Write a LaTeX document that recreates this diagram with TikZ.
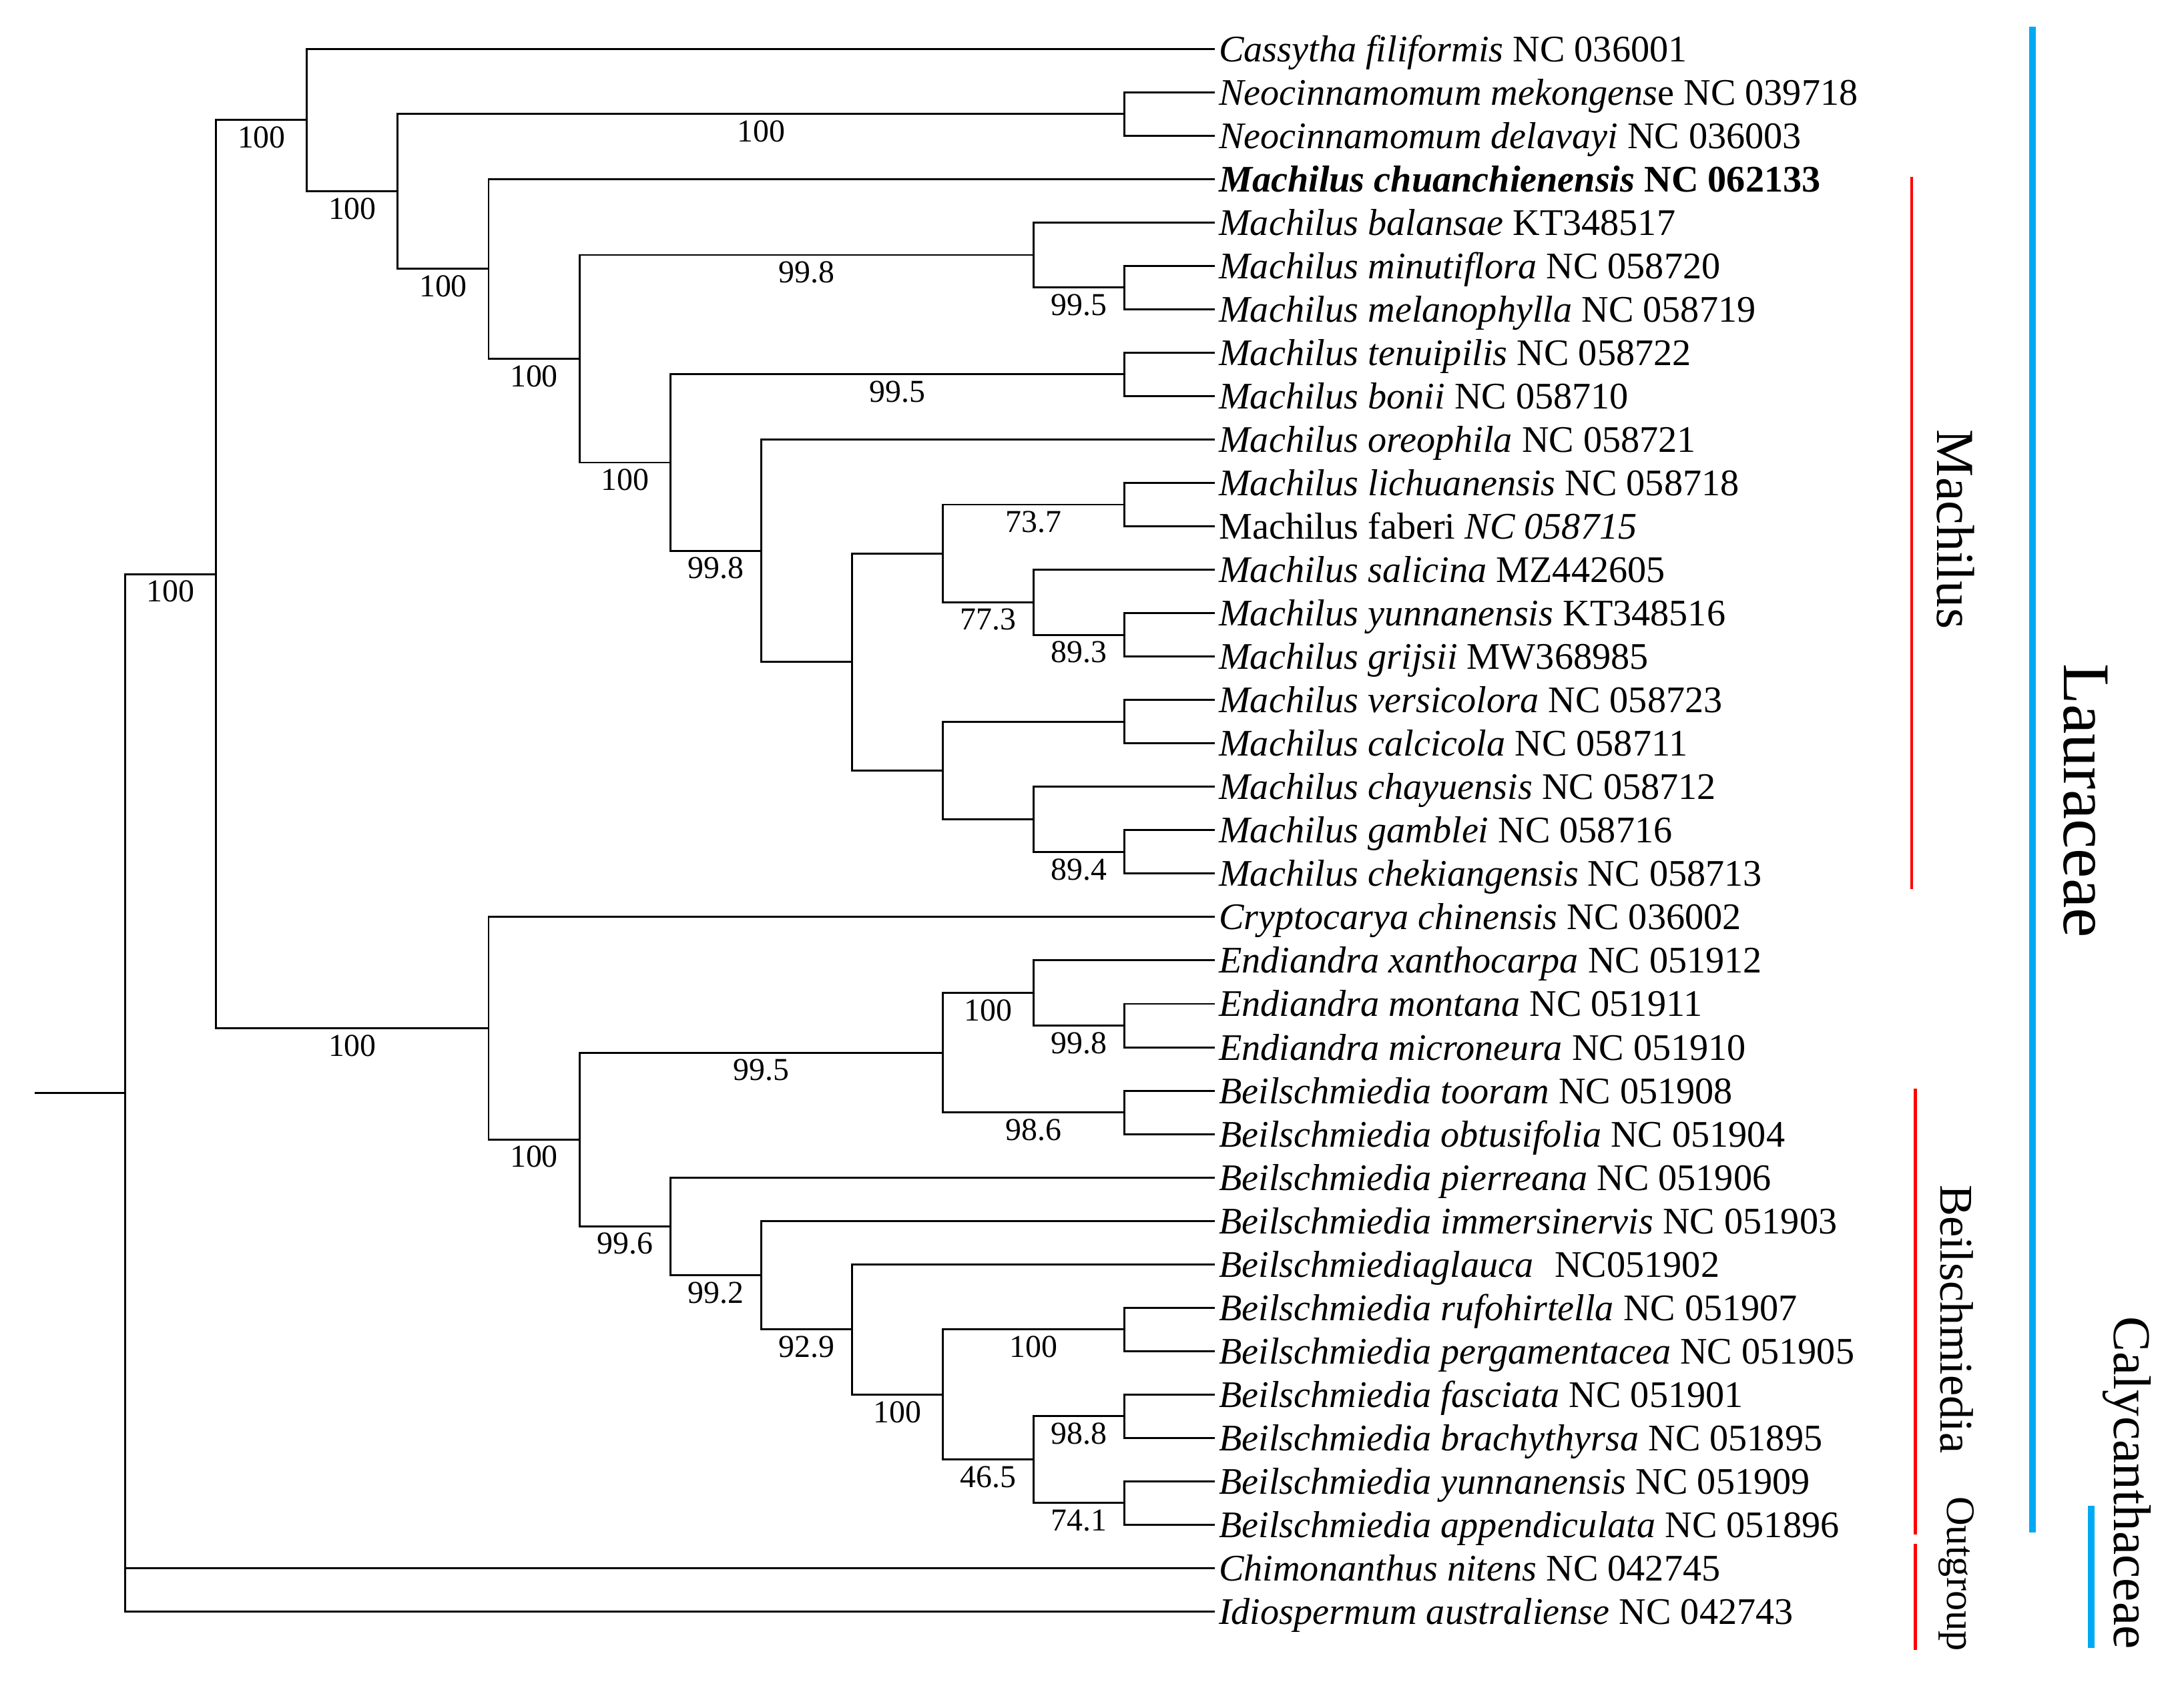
\documentclass[tikz,border=0pt]{standalone}
\usepackage{fontspec}
\setmainfont{Liberation Serif}
\usepackage{xcolor}
\definecolor{clade_red}{HTML}{FF0000}
\definecolor{clade_blue}{RGB}{0,169,244}
\newcommand{\taxsize}{\fontsize{8}{9}\selectfont}
\newcommand{\bootsize}{\fontsize{6.8}{8}\selectfont}

\begin{document}
\begin{tikzpicture}[x=0.68026cm, y=-0.32521cm]
\tikzset{
    branch/.style={line width=0.42pt},
    taxon/.style={anchor=west, inner sep=0.6pt, text height=6.6pt, text depth=1.2pt, font=\taxsize},
    boot/.style={pos=0.75, below, inner sep=1.2pt, font=\bootsize},
    genusbar/.style={draw=clade_red, line width=0.6pt},
    familybar/.style={draw=clade_blue, line width=1.3pt},
    cladename/.style={rotate=-90, anchor=base, inner sep=0pt}
}
\useasboundingbox (-1.3804,-1.1229) rectangle (22.669,37.793);
% inner nodes
\coordinate (stub) at (-1,24.0513);
\coordinate (root) at (0,24.0513);
\coordinate (Lau) at (1,12.1025);
\coordinate (A) at (2,1.6426);
\coordinate (B) at (3,3.2852);
\coordinate (Neo) at (11,1.5);
\coordinate (C) at (4,5.0703);
\coordinate (D) at (5,7.1406);
\coordinate (E) at (10,4.75);
\coordinate (E2) at (11,5.5);
\coordinate (F) at (6,9.5313);
\coordinate (G) at (11,7.5);
\coordinate (H) at (7,11.5625);
\coordinate (I) at (8,14.125);
\coordinate (J) at (9,11.625);
\coordinate (J1) at (11,10.5);
\coordinate (J2) at (10,12.75);
\coordinate (J3) at (11,13.5);
\coordinate (K) at (9,16.625);
\coordinate (K1) at (11,15.5);
\coordinate (K2) at (10,17.75);
\coordinate (K3) at (11,18.5);
\coordinate (L) at (4,22.5625);
\coordinate (M) at (5,25.125);
\coordinate (N) at (9,23.125);
\coordinate (N1) at (10,21.75);
\coordinate (N1a) at (11,22.5);
\coordinate (N2) at (11,24.5);
\coordinate (O) at (6,27.125);
\coordinate (P) at (7,28.25);
\coordinate (Q) at (8,29.5);
\coordinate (R) at (9,31);
\coordinate (R1) at (11,29.5);
\coordinate (R2) at (10,32.5);
\coordinate (R2a) at (11,31.5);
\coordinate (R2b) at (11,33.5);
% leaves
\node[taxon] (l0) at (12,0) {\textit{Cassytha filiformis} NC 036001};
\node[taxon] (l1) at (12,1) {\textit{Neocinnamomum mekongens}e NC 039718};
\node[taxon] (l2) at (12,2) {\textit{Neocinnamomum delavayi} NC 036003};
\node[taxon] (l3) at (12,3) {\bfseries\textit{Machilus chuanchienensis} NC 062133};
\node[taxon] (l4) at (12,4) {\textit{Machilus balansae} KT348517};
\node[taxon] (l5) at (12,5) {\textit{Machilus minutiflora} NC 058720};
\node[taxon] (l6) at (12,6) {\textit{Machilus melanophylla} NC 058719};
\node[taxon] (l7) at (12,7) {\textit{Machilus tenuipilis} NC 058722};
\node[taxon] (l8) at (12,8) {\textit{Machilus bonii} NC 058710};
\node[taxon] (l9) at (12,9) {\textit{Machilus oreophila} NC 058721};
\node[taxon] (l10) at (12,10) {\textit{Machilus lichuanensis} NC 058718};
\node[taxon] (l11) at (12,11) {Machilus faberi \textit{NC 058715}};
\node[taxon] (l12) at (12,12) {\textit{Machilus salicina} MZ442605};
\node[taxon] (l13) at (12,13) {\textit{Machilus yunnanensis} KT348516};
\node[taxon] (l14) at (12,14) {\textit{Machilus grijsii} MW368985};
\node[taxon] (l15) at (12,15) {\textit{Machilus versicolora} NC 058723};
\node[taxon] (l16) at (12,16) {\textit{Machilus calcicola} NC 058711};
\node[taxon] (l17) at (12,17) {\textit{Machilus chayuensis} NC 058712};
\node[taxon] (l18) at (12,18) {\textit{Machilus gamblei} NC 058716};
\node[taxon] (l19) at (12,19) {\textit{Machilus chekiangensis} NC 058713};
\node[taxon] (l20) at (12,20) {\textit{Cryptocarya chinensis} NC 036002};
\node[taxon] (l21) at (12,21) {\textit{Endiandra xanthocarpa} NC 051912};
\node[taxon] (l22) at (12,22) {\textit{Endiandra montana} NC 051911};
\node[taxon] (l23) at (12,23) {\textit{Endiandra microneura} NC 051910};
\node[taxon] (l24) at (12,24) {\textit{Beilschmiedia tooram} NC 051908};
\node[taxon] (l25) at (12,25) {\textit{Beilschmiedia obtusifolia} NC 051904};
\node[taxon] (l26) at (12,26) {\textit{Beilschmiedia pierreana} NC 051906};
\node[taxon] (l27) at (12,27) {\textit{Beilschmiedia immersinervis} NC 051903};
\node[taxon] (l28) at (12,28) {\textit{Beilschmiediaglauca}\hspace{2.5pt} NC051902};
\node[taxon] (l29) at (12,29) {\textit{Beilschmiedia rufohirtella} NC 051907};
\node[taxon] (l30) at (12,30) {\textit{Beilschmiedia pergamentacea} NC 051905};
\node[taxon] (l31) at (12,31) {\textit{Beilschmiedia fasciata} NC 051901};
\node[taxon] (l32) at (12,32) {\textit{Beilschmiedia brachythyrsa} NC 051895};
\node[taxon] (l33) at (12,33) {\textit{Beilschmiedia yunnanensis} NC 051909};
\node[taxon] (l34) at (12,34) {\textit{Beilschmiedia appendiculata} NC 051896};
\node[taxon] (l35) at (12,35) {\textit{Chimonanthus nitens} NC 042745};
\node[taxon] (l36) at (12,36) {\textit{Idiospermum australiense} NC 042743};
% edges
\draw[branch] (stub) -- (root);
\draw[branch] (root) |- (Lau) node[boot] {100};
\draw[branch] (root) |- (l35);
\draw[branch] (root) |- (l36);
\draw[branch] (Lau) |- (A) node[boot] {100};
\draw[branch] (Lau) |- (L) node[boot] {100};
\draw[branch] (A) |- (l0);
\draw[branch] (A) |- (B) node[boot] {100};
\draw[branch] (B) |- (Neo) node[boot] {100};
\draw[branch] (B) |- (C) node[boot] {100};
\draw[branch] (Neo) |- (l1);
\draw[branch] (Neo) |- (l2);
\draw[branch] (C) |- (l3);
\draw[branch] (C) |- (D) node[boot] {100};
\draw[branch] (D) |- (E) node[boot] {99.8};
\draw[branch] (D) |- (F) node[boot] {100};
\draw[branch] (E) |- (l4);
\draw[branch] (E) |- (E2) node[boot] {99.5};
\draw[branch] (E2) |- (l5);
\draw[branch] (E2) |- (l6);
\draw[branch] (F) |- (G) node[boot] {99.5};
\draw[branch] (F) |- (H) node[boot] {99.8};
\draw[branch] (G) |- (l7);
\draw[branch] (G) |- (l8);
\draw[branch] (H) |- (l9);
\draw[branch] (H) |- (I);
\draw[branch] (I) |- (J);
\draw[branch] (I) |- (K);
\draw[branch] (J) |- (J1) node[boot] {73.7};
\draw[branch] (J) |- (J2) node[boot] {77.3};
\draw[branch] (J1) |- (l10);
\draw[branch] (J1) |- (l11);
\draw[branch] (J2) |- (l12);
\draw[branch] (J2) |- (J3) node[boot] {89.3};
\draw[branch] (J3) |- (l13);
\draw[branch] (J3) |- (l14);
\draw[branch] (K) |- (K1);
\draw[branch] (K) |- (K2);
\draw[branch] (K1) |- (l15);
\draw[branch] (K1) |- (l16);
\draw[branch] (K2) |- (l17);
\draw[branch] (K2) |- (K3) node[boot] {89.4};
\draw[branch] (K3) |- (l18);
\draw[branch] (K3) |- (l19);
\draw[branch] (L) |- (l20);
\draw[branch] (L) |- (M) node[boot] {100};
\draw[branch] (M) |- (N) node[boot] {99.5};
\draw[branch] (M) |- (O) node[boot] {99.6};
\draw[branch] (N) |- (N1) node[boot] {100};
\draw[branch] (N) |- (N2) node[boot] {98.6};
\draw[branch] (N1) |- (l21);
\draw[branch] (N1) |- (N1a) node[boot] {99.8};
\draw[branch] (N1a) |- (l22);
\draw[branch] (N1a) |- (l23);
\draw[branch] (N2) |- (l24);
\draw[branch] (N2) |- (l25);
\draw[branch] (O) |- (l26);
\draw[branch] (O) |- (P) node[boot] {99.2};
\draw[branch] (P) |- (l27);
\draw[branch] (P) |- (Q) node[boot] {92.9};
\draw[branch] (Q) |- (l28);
\draw[branch] (Q) |- (R) node[boot] {100};
\draw[branch] (R) |- (R1) node[boot] {100};
\draw[branch] (R) |- (R2) node[boot] {46.5};
\draw[branch] (R1) |- (l29);
\draw[branch] (R1) |- (l30);
\draw[branch] (R2) |- (R2a) node[boot] {98.8};
\draw[branch] (R2) |- (R2b) node[boot] {74.1};
\draw[branch] (R2a) |- (l31);
\draw[branch] (R2a) |- (l32);
\draw[branch] (R2b) |- (l33);
\draw[branch] (R2b) |- (l34);
% clades
\draw[genusbar] (19.67,2.95) -- (19.67,19.35);
\draw[genusbar] (19.71,23.95) -- (19.71,34.22);
\draw[genusbar] (19.71,34.44) -- (19.71,36.88);
\draw[familybar] (21.0,-0.51) -- (21.0,34.17);
\draw[familybar, line width=1.45pt] (21.65,33.56) -- (21.65,36.83);
\node[cladename, font=\fontsize{11.4}{13}\selectfont] (machilus) at (19.95,11.07) {Machilus};
\node[cladename, font=\fontsize{10}{12}\selectfont] (beil) at (19.99,29.26) {Beilschmiedia};
\node[cladename, font=\fontsize{8.6}{10}\selectfont] (outgroup) at (20.06,35.13) {Outgroup};
\node[cladename, font=\fontsize{14.2}{16}\selectfont] (lauraceae) at (21.35,17.32) {Lauraceae};
\node[cladename, font=\fontsize{11.3}{13}\selectfont] (calycan) at (21.90,33.03) {Calycanthaceae};
\end{tikzpicture}
\end{document}
